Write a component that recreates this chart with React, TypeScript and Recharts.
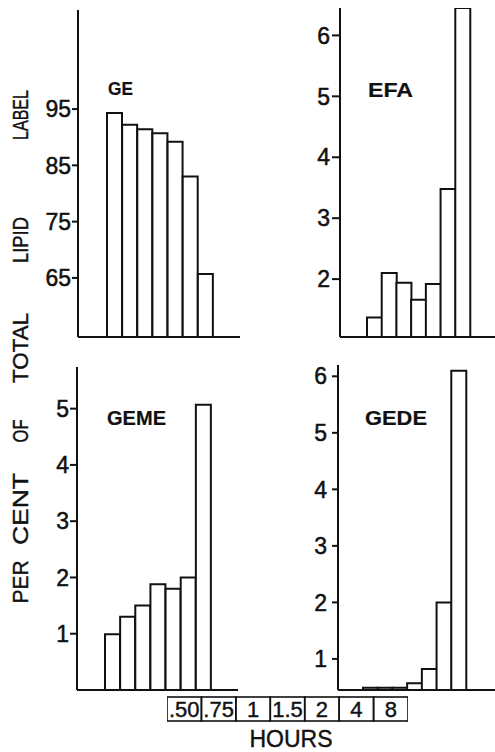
import { BarChart, Bar, XAxis, YAxis } from 'recharts';

// sampling times shared by all four panels
const hours = ['.50', '.75', '1', '1.5', '2', '4', '8'];

// per cent of total lipid label in each fraction
const geValues = [94.3, 92.2, 91.4, 90.7, 89.2, 83.0, 65.7];
const efaValues = [1.37, 2.1, 1.94, 1.66, 1.92, 3.48, 6.45];
const gemeValues = [0.99, 1.3, 1.5, 1.88, 1.8, 2.0, 5.07];
const gedeValues = [0.49, 0.49, 0.49, 0.57, 0.82, 2.0, 6.1];

const geTicks = [65, 75, 85, 95];
const efaTicks = [2, 3, 4, 5, 6];
const gemeTicks = [1, 2, 3, 4, 5];
const gedeTicks = [1, 2, 3, 4, 5, 6];

const yTitleWords = ['PER', 'CENT', 'OF', 'TOTAL', 'LIPID', 'LABEL'];
const xTitle = 'HOURS';

const INK = '#111';
const FONT = '"Liberation Sans", Arial, sans-serif';

// word centres (y) and lengths along the rotated axis title
const yTitleLayout = [
  { cy: 582, len: 43 },
  { cy: 509, len: 72 },
  { cy: 431, len: 23 },
  { cy: 348, len: 70 },
  { cy: 240, len: 46 },
  { cy: 115, len: 50 },
];

type PanelProps = {
  values: number[];
  ticks: number[];
  domain: [number, number];
  left: number;
  top: number;
  width: number;
  height: number;
  axisWidth: number;
  marginTop: number;
  padLeft: number;
  padRight: number;
  tickSize: number;
  tickMargin: number;
};

function Panel(p: PanelProps) {
  const data = hours.map((h, i) => ({ h, v: p.values[i] }));
  return (
    <div style={{ position: 'absolute', left: p.left, top: p.top }}>
      <BarChart
        width={p.width}
        height={p.height}
        data={data}
        margin={{ top: p.marginTop, right: 0, bottom: 0, left: 0 }}
        barCategoryGap={0}
      >
        <XAxis
          dataKey="h"
          height={8}
          tick={false}
          tickLine={false}
          axisLine={{ stroke: INK, strokeWidth: 2 }}
          padding={{ left: p.padLeft, right: p.padRight }}
        />
        <YAxis
          width={p.axisWidth}
          domain={p.domain}
          ticks={p.ticks}
          interval={0}
          allowDataOverflow
          tickSize={p.tickSize}
          tickMargin={p.tickMargin}
          axisLine={{ stroke: INK, strokeWidth: 2 }}
          tickLine={{ stroke: INK, strokeWidth: 2 }}
          tick={{ fill: INK, stroke: INK, strokeWidth: 0.5, fontSize: 23, fontFamily: FONT }}
        />
        <Bar dataKey="v" fill="#fff" stroke={INK} strokeWidth={2} isAnimationActive={false} />
      </BarChart>
    </div>
  );
}

const HOURS_W = 241;
const CELL = HOURS_W / hours.length;

function HoursCell(props: any) {
  const { x, y, payload } = props;
  return (
    <g>
      <rect x={x - CELL / 2} y={y} width={CELL} height={24} fill="none" stroke={INK} strokeWidth={1.6} />
      <text x={x} y={y + 20} textAnchor="middle" fill={INK} stroke={INK} strokeWidth={0.4} fontSize={22} fontFamily={FONT}>
        {payload.value}
      </text>
    </g>
  );
}

function HoursAxis() {
  const data = hours.map((h) => ({ h }));
  return (
    <div style={{ position: 'absolute', left: 167, top: 693 }}>
      <BarChart width={HOURS_W} height={32} data={data} margin={{ top: 0, right: 0, bottom: 0, left: 0 }}>
        <XAxis
          dataKey="h"
          height={28}
          interval={0}
          axisLine={false}
          tickLine={false}
          tickSize={0}
          tickMargin={0}
          tick={<HoursCell />}
        />
      </BarChart>
    </div>
  );
}

export default function App() {
  return (
    <div style={{ position: 'absolute', left: 0, top: 0, width: 495, height: 752, background: '#fff' }}>
      <Panel values={geValues} ticks={geTicks} domain={[54.5, 112.6]} left={0} top={0} width={240} height={345}
        axisWidth={78} marginTop={10} padLeft={29} padRight={27} tickSize={6} tickMargin={1} />
      <Panel values={efaValues} ticks={efaTicks} domain={[1.05, 6.45]} left={250} top={0} width={245} height={345}
        axisWidth={90} marginTop={8} padLeft={27} padRight={25} tickSize={8} tickMargin={2} />
      <Panel values={gemeValues} ticks={gemeTicks} domain={[0, 5.74]} left={0} top={360} width={238} height={338}
        axisWidth={77} marginTop={7} padLeft={28} padRight={27} tickSize={7} tickMargin={1} />
      <Panel values={gedeValues} ticks={gedeTicks} domain={[0.45, 6.2]} left={250} top={360} width={245} height={338}
        axisWidth={88} marginTop={5} padLeft={25} padRight={29} tickSize={6} tickMargin={5} />
      <HoursAxis />
      <svg width={495} height={752} style={{ position: 'absolute', left: 0, top: 0, pointerEvents: 'none' }}>
        <g fill={INK} stroke={INK} strokeWidth={0.4} fontFamily={FONT}>
          {yTitleWords.map((w, i) => (
            <text
              key={w}
              transform={`translate(20, ${yTitleLayout[i].cy}) rotate(-90)`}
              textAnchor="middle"
              dominantBaseline="central"
              fontSize={22}
              textLength={yTitleLayout[i].len}
              lengthAdjust="spacingAndGlyphs"
            >
              {w}
            </text>
          ))}
          <g fontWeight="bold" strokeWidth={0.2}>
            <text x={108} y={95} fontSize={18} textLength={25} lengthAdjust="spacingAndGlyphs">GE</text>
            <text x={368} y={97} fontSize={20} textLength={45} lengthAdjust="spacingAndGlyphs">EFA</text>
            <text x={107} y={425} fontSize={21} textLength={59} lengthAdjust="spacingAndGlyphs">GEME</text>
            <text x={365} y={425} fontSize={21} textLength={62} lengthAdjust="spacingAndGlyphs">GEDE</text>
          </g>
          <text x={291} y={747} fontSize={23} textAnchor="middle">{xTitle}</text>
        </g>
      </svg>
    </div>
  );
}
